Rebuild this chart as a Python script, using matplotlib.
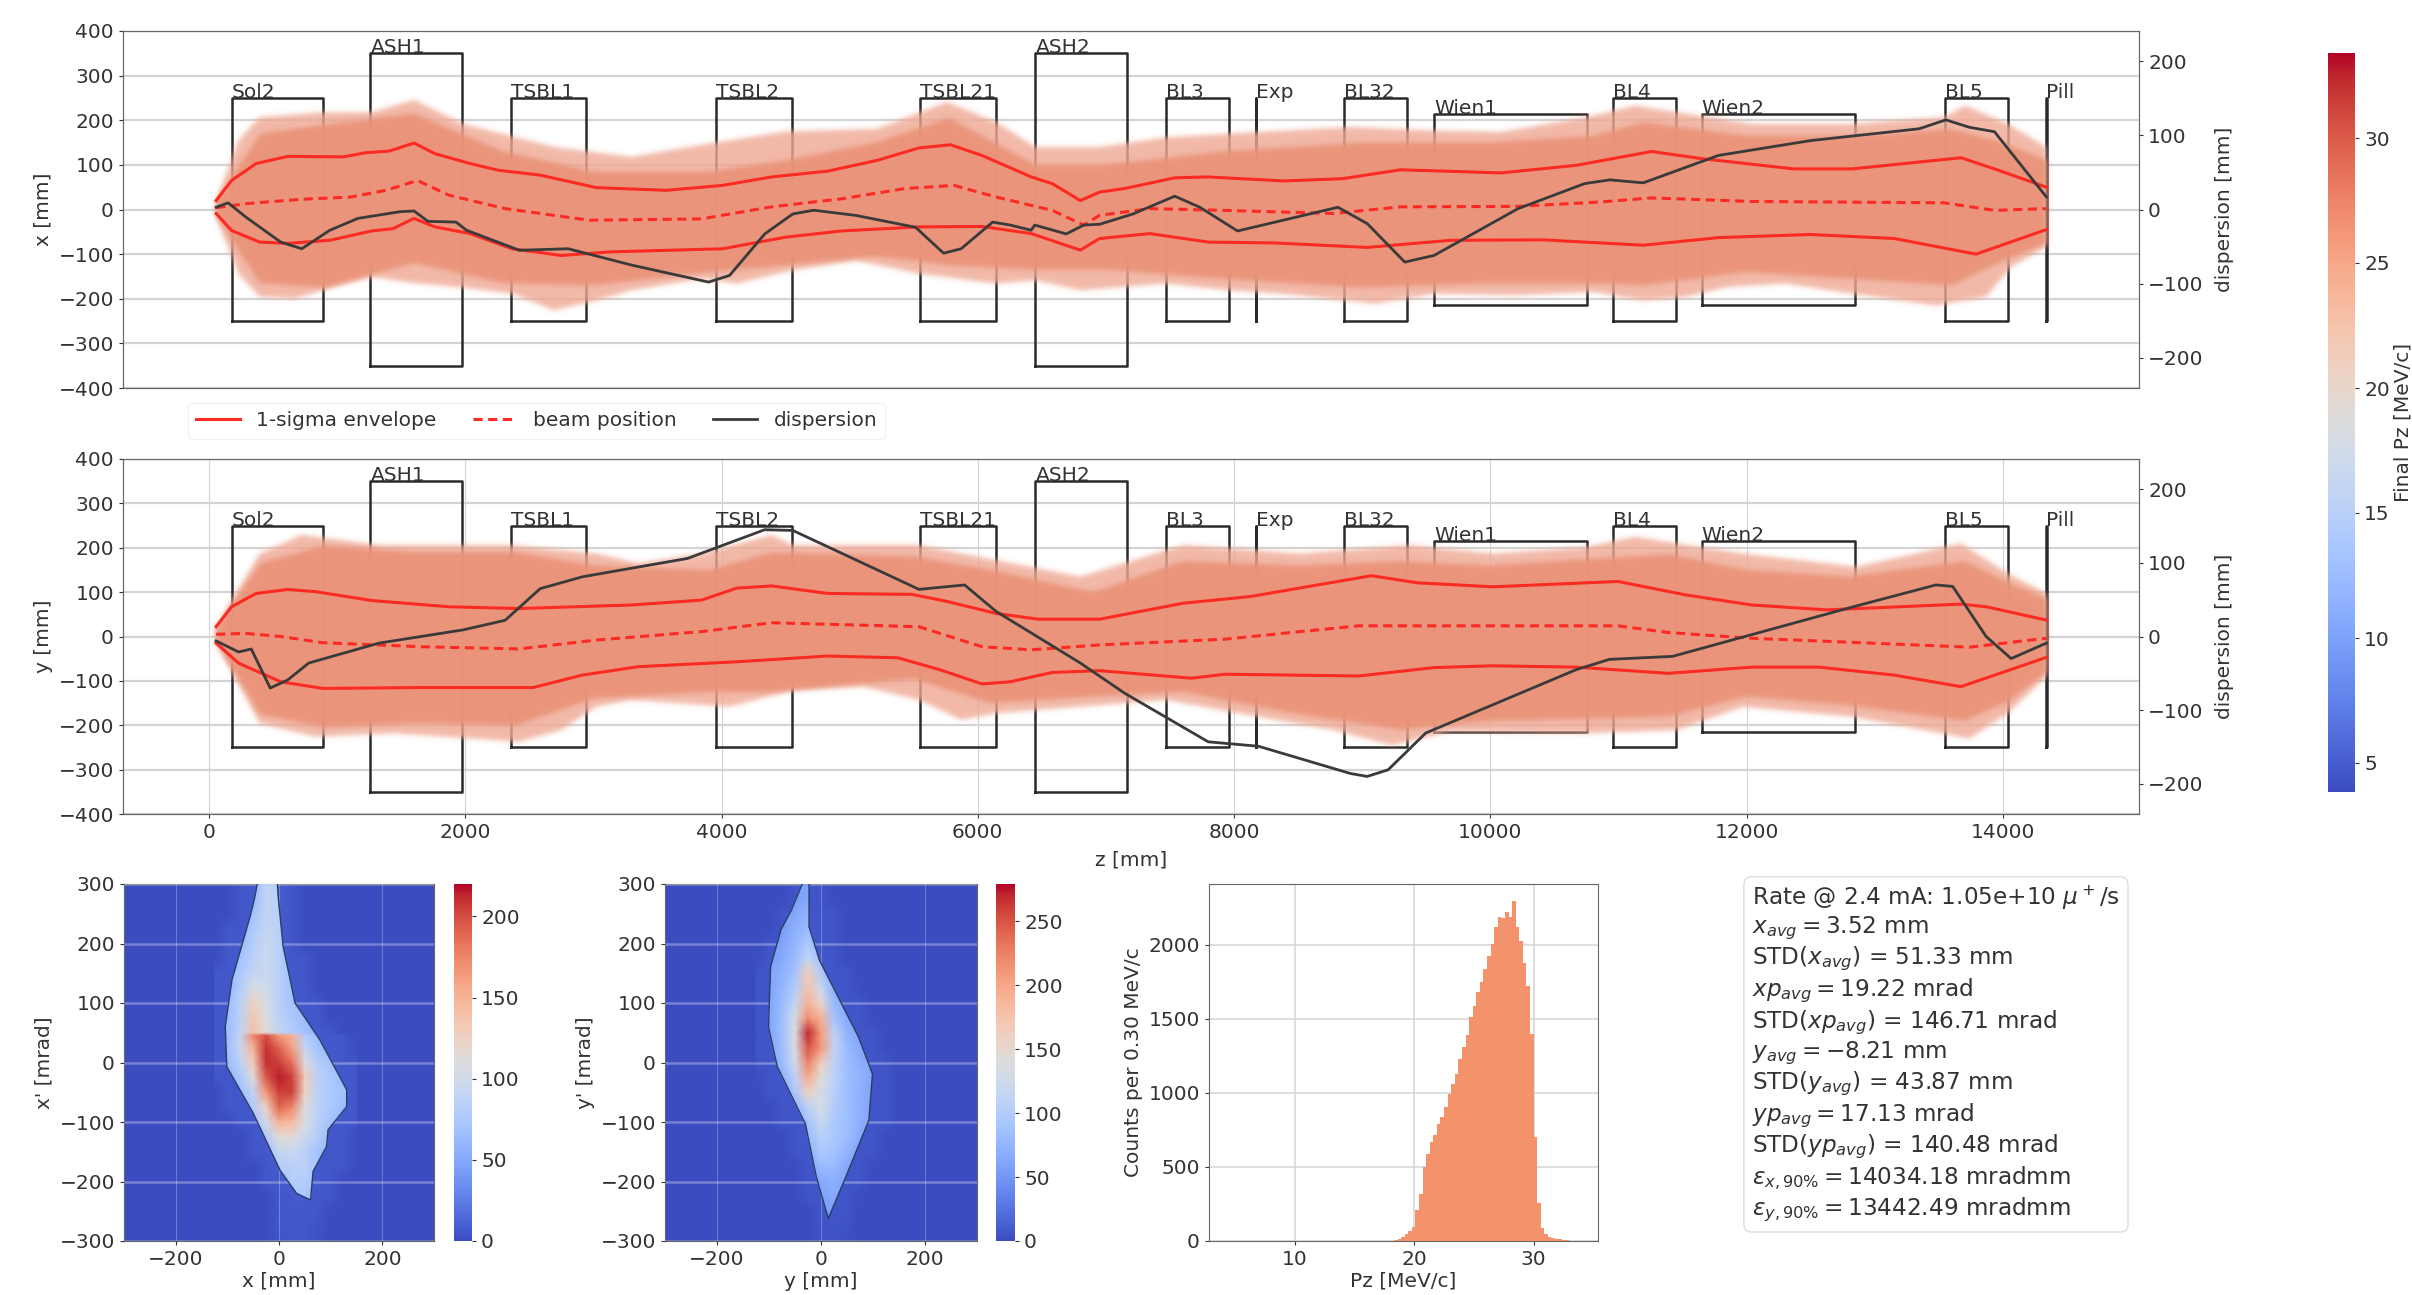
#!/usr/bin/env python
# -*- coding: utf-8 -*-
import matplotlib
matplotlib.use('Agg')
import matplotlib.pyplot as plt
from matplotlib.colors import to_rgb
from matplotlib.patches import Polygon
import numpy as np

W, H = 2412, 1295

# beamline elements
elem_names = ['Sol2', 'ASH1', 'TSBL1', 'TSBL2', 'TSBL21', 'ASH2', 'BL3', 'Exp', 'BL32', 'Wien1', 'BL4', 'Wien2', 'BL5', 'Pill']
elem_start = [176, 1260, 2360, 3958, 5551, 6450, 7465, 8170, 8855, 9560, 10957, 11650, 13550, 14340]
elem_end = [888, 1977, 2940, 4550, 6143, 7165, 7962, 8172, 9352, 10755, 11445, 12845, 14040, 14342]
elem_half = [250, 350, 250, 250, 250, 350, 250, 250, 250, 215, 250, 215, 250, 250]

# x plane
x_up_z = [56, 176, 368, 614, 1052, 1217, 1408, 1600, 1764, 2038, 2257, 2585, 3023, 3570, 4008, 4391, 4829, 5213, 5541, 5787, 6033, 6417, 6581, 6800, 6950, 7146, 7537, 7798, 8386, 8843, 9300, 10083, 10670, 11258, 11650, 12367, 12824, 13673, 13934, 14339]
x_up = [20, 65, 103, 119, 118, 127, 131, 149, 125, 103, 88, 77, 49, 43, 54, 73, 86, 110, 138, 145, 121, 73, 58, 20, 39, 47, 71, 73, 64, 69, 89, 82, 99, 130, 114, 91, 91, 116, 91, 50]
x_lo_z = [56, 176, 395, 614, 943, 1271, 1435, 1600, 1764, 2038, 2366, 2749, 3132, 4008, 4501, 4939, 5541, 6033, 6417, 6800, 6950, 7342, 7798, 8321, 9039, 9691, 10410, 11193, 11780, 12498, 13151, 13790, 14339]
x_lo = [-9, -47, -73, -76, -69, -48, -43, -20, -39, -54, -88, -103, -95, -88, -62, -48, -39, -38, -54, -91, -65, -54, -73, -75, -85, -69, -68, -80, -63, -56, -65, -100, -45]
x_pos_z = [56, 286, 724, 1107, 1381, 1627, 1873, 2311, 2968, 3844, 4391, 4939, 5432, 5815, 6143, 6581, 6827, 6950, 7342, 7929, 8778, 9300, 10214, 10866, 11258, 12041, 13542, 13934, 14339]
x_pos = [4, 13, 23, 28, 43, 65, 32, 2, -24, -21, 6, 24, 47, 54, 28, -2, -35, -13, 2, -2, -9, 6, 7, 17, 26, 18, 15, -2, 2]
x_disp_z = [56, 149, 286, 560, 724, 943, 1162, 1490, 1600, 1709, 1928, 2010, 2421, 2804, 3297, 3899, 4063, 4337, 4556, 4720, 5049, 5514, 5733, 5870, 6116, 6253, 6417, 6444, 6690, 6827, 6950, 7211, 7537, 7733, 8027, 8321, 8810, 9039, 9332, 9561, 10214, 10736, 10931, 11193, 11780, 12498, 13346, 13555, 13738, 13934, 14339]
x_disp = [3, 9, -10, -44, -53, -28, -12, -3, -2, -16, -17, -28, -55, -53, -75, -98, -89, -33, -6, -1, -8, -24, -59, -53, -17, -21, -28, -21, -33, -21, -20, -6, 18, 3, -29, -17, 3, -19, -71, -62, 1, 35, 40, 36, 73, 93, 109, 121, 111, 105, 17]
x_outer_up_z = [56, 231, 395, 888, 1271, 1600, 1983, 2695, 3297, 3844, 4501, 5213, 5760, 6143, 6450, 6950, 7472, 7962, 8908, 9561, 10083, 10755, 11128, 11454, 12041, 12824, 13542, 13705, 14039, 14339]
x_outer_up = [20, 155, 207, 218, 218, 246, 192, 140, 118, 145, 175, 181, 241, 196, 140, 140, 162, 170, 185, 177, 174, 207, 233, 218, 192, 192, 207, 233, 192, 140]
x_outer_lo_z = [56, 231, 395, 669, 888, 1271, 1600, 1983, 2366, 2695, 3023, 3297, 3844, 4118, 4556, 5049, 5541, 6143, 6450, 6800, 7472, 7962, 8386, 9104, 9561, 10214, 10801, 11193, 11520, 11845, 12302, 12824, 13477, 13869, 14064, 14339]
x_outer_lo = [-17, -144, -196, -200, -181, -151, -165, -175, -189, -226, -204, -181, -155, -166, -136, -114, -144, -166, -159, -181, -166, -181, -189, -211, -189, -192, -185, -204, -196, -174, -166, -189, -215, -196, -129, -84]
x_core_z = [56, 400, 900, 1600, 2300, 3000, 3900, 4500, 5200, 5780, 6450, 7000, 7900, 9000, 10000, 10800, 11200, 12000, 12800, 13600, 14000, 14339]
x_core_up = [18, 170, 190, 215, 130, 85, 85, 110, 150, 205, 100, 100, 130, 150, 150, 165, 195, 165, 165, 180, 150, 110]
x_core_lo = [-14, -165, -175, -120, -165, -170, -140, -125, -105, -125, -135, -135, -155, -175, -165, -165, -170, -140, -155, -170, -115, -75]

# y plane
y_up_z = [56, 176, 368, 614, 833, 1271, 1873, 2421, 3297, 3844, 4118, 4391, 4829, 5486, 5760, 6143, 6472, 6950, 7603, 8125, 8647, 9071, 9430, 10018, 10997, 11519, 12041, 12628, 13673, 13869, 14339]
y_up = [22, 67, 97, 106, 101, 81, 67, 63, 71, 82, 109, 114, 97, 95, 79, 52, 39, 39, 75, 90, 116, 137, 121, 112, 124, 94, 71, 60, 73, 67, 37]
y_lo_z = [56, 231, 560, 888, 1654, 2530, 2913, 3351, 4118, 4829, 5377, 5705, 6033, 6253, 6581, 6950, 7668, 7929, 8973, 9561, 10018, 10670, 11389, 12041, 12563, 13151, 13673, 14339]
y_lo = [-15, -60, -102, -117, -115, -115, -87, -68, -57, -44, -48, -75, -107, -102, -81, -77, -94, -85, -89, -70, -66, -69, -83, -69, -69, -87, -113, -47]
y_pos_z = [56, 286, 560, 888, 1654, 2421, 3023, 3844, 4391, 5541, 6033, 6417, 6950, 7929, 8516, 8973, 10997, 11389, 12041, 13738, 14339]
y_pos = [5, 7, 0, -14, -23, -28, -8, 11, 31, 22, -23, -30, -19, -6, 11, 24, 24, 9, -4, -24, -4]
y_disp_z = [56, 231, 330, 478, 614, 779, 1326, 1983, 2311, 2585, 2913, 3735, 4337, 4556, 5541, 5897, 6143, 6800, 7146, 7798, 8190, 8908, 9039, 9202, 9496, 10670, 10931, 11421, 12824, 13477, 13608, 13869, 14064, 14339]
y_disp = [-6, -21, -17, -70, -59, -36, -9, 9, 22, 65, 81, 106, 145, 144, 64, 70, 34, -36, -77, -143, -149, -186, -190, -181, -131, -45, -31, -27, 40, 70, 68, 0, -30, -9]
y_outer_up_z = [56, 395, 724, 1326, 2366, 3023, 3351, 3844, 4391, 4556, 5541, 6143, 6800, 7603, 8516, 9365, 10018, 10755, 11128, 11454, 11975, 12857, 13673, 14039, 14339]
y_outer_up = [22, 187, 229, 206, 206, 187, 165, 187, 229, 206, 206, 172, 135, 206, 187, 206, 187, 202, 225, 210, 187, 157, 210, 142, 97]
y_outer_lo_z = [56, 395, 833, 1435, 2421, 2749, 3023, 3297, 4063, 4556, 5103, 5541, 5870, 6143, 6800, 7472, 8190, 8778, 9234, 9691, 10755, 11454, 11975, 12824, 13738, 14039, 14339]
y_outer_lo = [-15, -196, -226, -218, -237, -211, -158, -143, -158, -121, -113, -143, -188, -173, -158, -143, -181, -211, -245, -214, -218, -211, -158, -181, -230, -173, -90]
y_core_z = [56, 400, 900, 1600, 2400, 3000, 3900, 4400, 5500, 6100, 6900, 7600, 8500, 9300, 10000, 10800, 11400, 12000, 12800, 13700, 14050, 14339]
y_core_up = [18, 165, 205, 190, 190, 160, 150, 190, 180, 150, 100, 170, 160, 170, 160, 175, 185, 150, 135, 170, 120, 85]
y_core_lo = [-12, -175, -205, -195, -200, -140, -125, -125, -95, -150, -135, -125, -175, -210, -190, -185, -180, -135, -155, -190, -145, -80]

# phase space, counts per cell
ps_pos = [-125, -100, -75, -50, -25, 0, 25, 50, 75, 100, 125, 150]
x_ang = [300, 275, 250, 225, 200, 175, 150, 125, 100, 75, 50, 45, 25, 0, -25, -50, -75, -100, -125, -150, -175, -200, -225, -250, -275, -300]
x_counts = [
    [0, 0, 55, 60, 90, 80, 55, 0, 0, 0, 0, 0],
    [0, 0, 55, 65, 90, 85, 55, 0, 0, 0, 0, 0],
    [0, 0, 60, 70, 90, 85, 55, 0, 0, 0, 0, 0],
    [0, 55, 60, 75, 90, 85, 60, 0, 0, 0, 0, 0],
    [0, 55, 65, 80, 95, 85, 60, 0, 0, 0, 0, 0],
    [0, 55, 70, 85, 95, 85, 60, 55, 0, 0, 0, 0],
    [55, 60, 75, 90, 95, 85, 70, 55, 0, 0, 0, 0],
    [55, 60, 80, 105, 100, 85, 70, 55, 0, 0, 0, 0],
    [55, 65, 85, 125, 105, 85, 70, 60, 55, 0, 0, 0],
    [55, 65, 85, 135, 110, 85, 75, 65, 55, 0, 0, 0],
    [55, 65, 90, 140, 115, 90, 80, 70, 60, 55, 0, 0],
    [55, 65, 90, 175, 200, 165, 150, 80, 65, 60, 55, 0],
    [55, 65, 95, 150, 210, 190, 160, 90, 70, 60, 55, 0],
    [55, 65, 85, 130, 210, 205, 185, 110, 80, 70, 60, 55],
    [55, 60, 75, 110, 195, 215, 205, 130, 85, 75, 65, 55],
    [0, 55, 65, 90, 165, 205, 205, 125, 85, 75, 70, 55],
    [0, 55, 60, 80, 125, 190, 175, 110, 85, 75, 65, 55],
    [0, 0, 55, 65, 100, 150, 145, 105, 85, 70, 60, 55],
    [0, 0, 0, 55, 80, 115, 115, 95, 80, 65, 55, 0],
    [0, 0, 0, 55, 70, 90, 95, 85, 70, 60, 55, 0],
    [0, 0, 0, 0, 60, 80, 85, 85, 70, 60, 55, 0],
    [0, 0, 0, 0, 55, 65, 80, 80, 70, 60, 0, 0],
    [0, 0, 0, 0, 0, 55, 75, 75, 60, 55, 0, 0],
    [0, 0, 0, 0, 0, 55, 65, 70, 60, 0, 0, 0],
    [0, 0, 0, 0, 0, 55, 60, 55, 40, 0, 0, 0],
    [0, 0, 0, 0, 0, 50, 60, 55, 30, 0, 0, 0],
]
y_ang = [300, 275, 250, 225, 200, 175, 150, 125, 100, 75, 50, 25, 0, -25, -50, -75, -100, -125, -150, -175, -200, -225, -250, -275, -300]
y_counts = [
    [0, 0, 0, 55, 60, 55, 0, 0, 0, 0, 0, 0],
    [0, 0, 0, 55, 65, 60, 0, 0, 0, 0, 0, 0],
    [0, 0, 55, 65, 75, 60, 55, 0, 0, 0, 0, 0],
    [0, 0, 55, 70, 80, 70, 55, 0, 0, 0, 0, 0],
    [0, 55, 60, 75, 95, 75, 55, 0, 0, 0, 0, 0],
    [0, 55, 65, 80, 115, 85, 60, 0, 0, 0, 0, 0],
    [55, 60, 70, 90, 165, 100, 60, 55, 0, 0, 0, 0],
    [55, 60, 75, 100, 175, 120, 70, 55, 0, 0, 0, 0],
    [55, 60, 80, 115, 190, 150, 80, 60, 55, 0, 0, 0],
    [55, 60, 85, 130, 215, 190, 90, 65, 55, 0, 0, 0],
    [55, 60, 85, 135, 270, 205, 110, 75, 60, 55, 0, 0],
    [55, 60, 85, 135, 250, 210, 115, 80, 65, 55, 0, 0],
    [55, 60, 80, 125, 225, 165, 110, 85, 70, 60, 55, 0],
    [0, 55, 70, 110, 195, 140, 110, 85, 75, 60, 55, 0],
    [0, 55, 60, 95, 160, 130, 105, 85, 70, 60, 55, 0],
    [0, 0, 55, 75, 110, 130, 100, 85, 70, 60, 55, 0],
    [0, 0, 55, 65, 90, 120, 95, 85, 70, 60, 55, 0],
    [0, 0, 0, 55, 80, 105, 95, 85, 65, 55, 0, 0],
    [0, 0, 0, 55, 70, 95, 90, 75, 60, 55, 0, 0],
    [0, 0, 0, 0, 60, 80, 80, 65, 55, 0, 0, 0],
    [0, 0, 0, 0, 55, 65, 70, 60, 55, 0, 0, 0],
    [0, 0, 0, 0, 55, 60, 65, 55, 0, 0, 0, 0],
    [0, 0, 0, 0, 0, 55, 60, 55, 0, 0, 0, 0],
    [0, 0, 0, 0, 0, 50, 55, 40, 0, 0, 0, 0],
    [0, 0, 0, 0, 0, 45, 50, 30, 0, 0, 0, 0],
]
x_line_pos = [-42, -48, -56, -91, -104, -101, -50, 2, 34, 61, 66, 92, 95, 131, 131, 79, 31, 8, -1, -3]
x_line_ang = [300, 273, 245, 139, 60, -7, -85, -181, -220, -231, -183, -141, -113, -74, -46, 38, 100, 195, 273, 300]
y_line_pos = [-36, -57, -77, -97, -101, -84, -30, -9, 14, 45, 92, 99, 72, -3, -23, -23]
y_line_ang = [300, 256, 223, 161, 60, -7, -103, -192, -262, -198, -97, -19, 43, 172, 228, 300]

# momentum histogram
pz_first_edge = 18.0
pz_bin = 0.3
pz_counts = [3, 6, 14, 27, 45, 70, 95, 210, 320, 500, 590, 670, 715, 790, 835, 905, 990, 1060, 1130, 1230, 1312, 1390, 1515, 1590, 1680, 1750, 1840, 1925, 2010, 2120, 2190, 2180, 2225, 2190, 2300, 2120, 2030, 1880, 1720, 1400, 700, 260, 90, 45, 30, 20, 16, 11, 8, 5, 3, 2, 1]

summary = '\n'.join([
    r'Rate @ 2.4 mA: 1.05e+10 $\mu^+$/s',
    r'$x_{avg} = 3.52$ mm',
    r'STD($x_{avg}$) = 51.33 mm',
    r'$xp_{avg} = 19.22$ mrad',
    r'STD($xp_{avg}$) = 146.71 mrad',
    r'$y_{avg} = -8.21$ mm',
    r'STD($y_{avg}$) = 43.87 mm',
    r'$yp_{avg} = 17.13$ mrad',
    r'STD($yp_{avg}$) = 140.48 mrad',
    r'$\epsilon_{x,90\%} = 14034.18$ mradmm',
    r'$\epsilon_{y,90\%} = 13442.49$ mradmm',
])

TEXT = '#333333'
SPINE = '#666666'
GRID = '#d4d4d4'
FS = 14.5


def softEdge(color, sigma):
    # blurs the alpha of a drawn polygon, the cloud has no hard edge
    rgb = to_rgb(color)
    radius = int(3 * sigma)
    kernel = np.exp(-0.5 * (np.arange(-radius, radius + 1) / sigma) ** 2)
    kernel = kernel / kernel.sum()

    def process(image, dpi):
        alpha = np.pad(image[:, :, 3], radius)
        for axis in (0, 1):
            blurred = np.zeros_like(alpha)
            for off, k in zip(range(-radius, radius + 1), kernel):
                blurred += k * np.roll(alpha, off, axis=axis)
            alpha = blurred
        out = np.zeros(alpha.shape + (4,))
        out[:, :, 0], out[:, :, 1], out[:, :, 2] = rgb
        out[:, :, 3] = alpha
        return out, -radius, -radius
    return process


def addAxes(fig, left, right, top, bottom):
    ax = fig.add_axes([left / W, 1 - bottom / H, (right - left) / W, (bottom - top) / H])
    for s in ax.spines.values():
        s.set_color(SPINE)
    ax.tick_params(labelsize=FS, colors=TEXT, length=3)
    return ax


def band(ax, z_up, up, z_lo, lo, color, alpha, sigma):
    # envelope read as two polylines, closed into one polygon
    patch = ax.fill(list(z_up) + list(z_lo)[::-1], list(up) + list(lo)[::-1], color=color, alpha=alpha, lw=0, zorder=3)[0]
    patch.set_agg_filter(softEdge(color, sigma))


def drawBeamline(ax, band_data, up, lo, pos, disp, label):
    ax.set_xlim(-671, 15062)
    ax.set_ylim(-400, 400)
    ax.set_yticks(np.arange(-400, 401, 100))
    ax.set_ylabel(label, fontsize=FS, color=TEXT)
    ax.grid(axis='y', color=GRID, lw=1.6)
    ax.set_axisbelow(True)
    for name, s, e, h in zip(elem_names, elem_start, elem_end, elem_half):
        ax.plot([s, s, e, e, s], [-h, h, h, -h, -h], color='#2a2a2a', lw=1.8, zorder=2)
        ax.text(s, h, name, fontsize=FS, color=TEXT, zorder=6)
    outer, core = band_data
    band(ax, *outer, '#efa893', 0.8, 2.5)
    band(ax, *core, '#ea9379', 0.94, 2.5)
    l1, = ax.plot(up[0], up[1], color='#fb2a22', lw=2.2, zorder=5, label='1-sigma envelope')
    ax.plot(lo[0], lo[1], color='#fb2a22', lw=2.2, zorder=5)
    l2, = ax.plot(pos[0], pos[1], color='#fb2a22', lw=2.2, ls=(0, (3, 1.8)), zorder=5, label='beam position')
    twin = ax.twinx()
    twin.set_ylim(-241, 241)
    twin.set_yticks([-200, -100, 0, 100, 200])
    twin.tick_params(labelsize=FS, colors=TEXT, length=3)
    for s in twin.spines.values():
        s.set_color(SPINE)
    twin.set_ylabel('dispersion [mm]', fontsize=FS, color=TEXT, labelpad=8)
    l3, = twin.plot(disp[0], disp[1], color='#3a3a3a', lw=2, label='dispersion')
    return [l1, l2, l3]


def drawPhase(fig, box, cbox, ang, counts, line_pos, line_ang, xlabel, ylabel, vmax, cticks):
    ax = addAxes(fig, *box)
    grid = np.array(counts)
    # dim glow outside the contour, the full counts only inside it
    ax.pcolormesh(ps_pos, ang, grid * 0.1, cmap='coolwarm', vmin=0, vmax=vmax, shading='gouraud', zorder=1)
    ax.set_facecolor(plt.cm.coolwarm(0.0))
    ax.set_xlim(-300, 300)
    ax.set_ylim(-300, 300)
    ax.set_xticks([-200, 0, 200])
    ax.set_yticks(np.arange(-300, 301, 100))
    ax.set_axisbelow(False)
    ax.grid(axis='y', color='white', lw=1.8, alpha=0.3, zorder=2)
    ax.grid(axis='x', color='white', lw=0.8, alpha=0.25, zorder=2)
    for line in ax.get_xgridlines() + ax.get_ygridlines():
        line.set_zorder(2)
    mesh = ax.pcolormesh(ps_pos, ang, grid, cmap='coolwarm', vmin=0, vmax=vmax, shading='gouraud', zorder=3)
    outline = Polygon(np.column_stack([line_pos, line_ang]), closed=True, transform=ax.transData, fc='none', ec='none')
    ax.add_patch(outline)
    mesh.set_clip_path(outline)
    ax.plot(line_pos, line_ang, color='#2b3f66', lw=1.0, zorder=4)
    ax.set_xlabel(xlabel, fontsize=FS, color=TEXT, labelpad=2)
    ax.set_ylabel(ylabel, fontsize=FS, color=TEXT)
    cax = addAxes(fig, *cbox)
    cb = fig.colorbar(mesh, cax=cax, ticks=cticks)
    cb.outline.set_visible(False)
    cax.tick_params(labelsize=FS, colors=TEXT, length=3)


def main():
    fig = plt.figure(figsize=(W / 100, H / 100), dpi=100)

    ax1 = addAxes(fig, 123, 2139, 31, 388)
    lines = drawBeamline(ax1,
                         ((x_outer_up_z, x_outer_up, x_outer_lo_z, x_outer_lo), (x_core_z, x_core_up, x_core_z, x_core_lo)),
                         (x_up_z, x_up), (x_lo_z, x_lo), (x_pos_z, x_pos), (x_disp_z, x_disp), 'x [mm]')
    ax1.set_xticks([])
    ax1.legend(handles=lines, ncol=3, loc='upper left', bbox_to_anchor=(0.027, -0.015), fontsize=FS, labelcolor=TEXT,
               frameon=True, edgecolor='#f2f2f2', framealpha=1, columnspacing=1.8, handlelength=2.2)

    ax2 = addAxes(fig, 123, 2139, 459, 814)
    drawBeamline(ax2,
                 ((y_outer_up_z, y_outer_up, y_outer_lo_z, y_outer_lo), (y_core_z, y_core_up, y_core_z, y_core_lo)),
                 (y_up_z, y_up), (y_lo_z, y_lo), (y_pos_z, y_pos), (y_disp_z, y_disp), 'y [mm]')
    ax2.set_xticks(np.arange(0, 14001, 2000))
    ax2.grid(axis='x', color=GRID, lw=0.8)
    ax2.set_xlabel('z [mm]', fontsize=FS, color=TEXT, labelpad=6)

    cax = addAxes(fig, 2328, 2355, 53, 792)
    sm = plt.cm.ScalarMappable(norm=plt.Normalize(3.84, 33.4), cmap='coolwarm')
    cb = fig.colorbar(sm, cax=cax, ticks=[5, 10, 15, 20, 25, 30])
    cb.outline.set_visible(False)
    cb.set_label('Final Pz [MeV/c]', fontsize=FS, color=TEXT, labelpad=3)
    cax.tick_params(labelsize=FS, colors=TEXT, length=3)

    drawPhase(fig, (124, 434, 884, 1241), (454, 472, 884, 1241), x_ang, x_counts, x_line_pos, x_line_ang,
              'x [mm]', "x' [mrad]", 220, [0, 50, 100, 150, 200])
    drawPhase(fig, (665, 977, 884, 1241), (996, 1015, 884, 1241), y_ang, y_counts, y_line_pos, y_line_ang,
              'y [mm]', "y' [mrad]", 279, [0, 50, 100, 150, 200, 250])

    ax3 = addAxes(fig, 1209, 1598, 884, 1241)
    edges = pz_first_edge + pz_bin * np.arange(len(pz_counts) + 1)
    ax3.stairs(pz_counts, edges, fill=True, color='#f4926c', zorder=3)
    ax3.set_xlim(2.8, 35.4)
    ax3.set_ylim(0, 2412)
    ax3.set_xticks([10, 20, 30])
    ax3.set_yticks([0, 500, 1000, 1500, 2000])
    ax3.grid(color=GRID, lw=1.1)
    ax3.set_axisbelow(True)
    ax3.set_xlabel('Pz [MeV/c]', fontsize=FS, color=TEXT, labelpad=2)
    ax3.set_ylabel('Counts per 0.30 MeV/c', fontsize=FS, color=TEXT)

    fig.text(1752 / W, 1 - 883 / H, summary, fontsize=16.7, color=TEXT, va='top', ha='left', linespacing=1.16,
             bbox=dict(boxstyle='round,pad=0.35', facecolor='white', edgecolor='#dddddd'))

    plt.savefig('out.png', dpi=100)
    plt.close()


if __name__ == '__main__':
    main()
